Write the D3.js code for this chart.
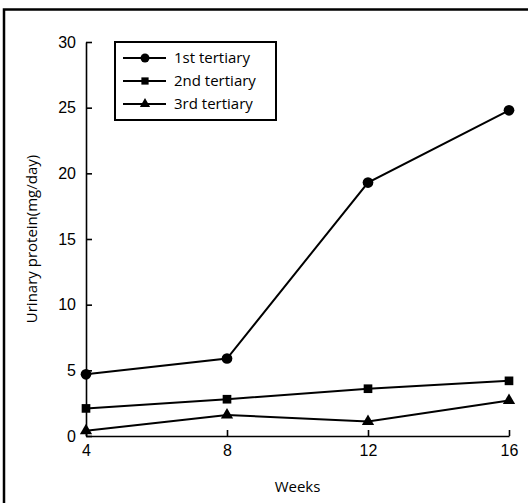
<!DOCTYPE html>
<html lang="en">
<head>
  <meta charset="UTF-8">
  <title>Urinary protein by tertiary</title>
  <script src="https://d3js.org/d3.v7.min.js"></script>
  <style>
    body { margin: 0; background: #fff; }
    svg { display: block; font-family: "Open Sans", Lato, sans-serif; }
    .axis path, .axis line { stroke: #000; stroke-width: 1.6; }
    .axis text { font-size: 16px; fill: #000; }
  </style>
</head>
<body>
  <svg width="528" height="503"></svg>
  <script>
    // data
    const weeks = [4, 8, 12, 16];
    const first = [4.7, 5.9, 19.3, 24.8];
    const second = [2.1, 2.8, 3.6, 4.2];
    const third = [0.4, 1.6, 1.1, 2.7];
    const seriesNames = ["1st tertiary", "2nd tertiary", "3rd tertiary"];
    const yTicks = [0, 5, 10, 15, 20, 25, 30];

    const series = [
      { name: seriesNames[0], values: first, symbol: d3.symbolCircle, size: 90 },
      { name: seriesNames[1], values: second, symbol: d3.symbolSquare, size: 75 },
      { name: seriesNames[2], values: third, symbol: d3.symbolTriangle, size: 65 }
    ];

    const svg = d3.select("svg");
    const margin = { top: 42, right: 19, bottom: 67, left: 86 };
    const width = 528 - margin.left - margin.right;
    const height = 503 - margin.top - margin.bottom;

    // outer frame (left and top edges only visible)
    svg.append("path")
      .attr("d", "M4,503V9.5H528")
      .attr("fill", "none")
      .attr("stroke", "#000")
      .attr("stroke-width", 2.5);

    const g = svg.append("g").attr("transform", `translate(${margin.left},${margin.top})`);

    const x = d3.scaleLinear().domain([4, 16]).range([0, width]);
    const y = d3.scaleLinear().domain([0, 30]).range([height, 0]);

    // x axis, ticks pointing inward
    const xAxis = g.append("g").attr("class", "axis")
      .attr("transform", `translate(0,${height})`)
      .call(d3.axisBottom(x).tickValues(weeks).tickSizeInner(-6).tickSizeOuter(0).tickPadding(6));
    xAxis.selectAll("text").attr("dy", "0.85em");

    // y axis, ticks pointing inward
    g.append("g").attr("class", "axis")
      .call(d3.axisLeft(y).tickValues(yTicks).tickSizeInner(-6).tickSizeOuter(0).tickPadding(10));

    // axis titles
    g.append("text")
      .attr("x", width / 2)
      .attr("y", height + 56)
      .attr("text-anchor", "middle")
      .style("font-size", "15px")
      .text("Weeks");

    g.append("text")
      .attr("transform", `translate(-49,${height / 2}) rotate(-90)`)
      .attr("text-anchor", "middle")
      .style("font-size", "15px")
      .text("Urinary protein(mg/day)");

    const line = d3.line()
      .x((d, i) => x(weeks[i]))
      .y(d => y(d));

    series.forEach(s => {
      g.append("path")
        .datum(s.values)
        .attr("fill", "none")
        .attr("stroke", "#000")
        .attr("stroke-width", 2)
        .attr("d", line);

      g.selectAll(null)
        .data(s.values)
        .enter().append("path")
        .attr("transform", (d, i) => `translate(${x(weeks[i])},${y(d)})`)
        .attr("d", d3.symbol().type(s.symbol).size(s.size))
        .attr("fill", "#000");
    });

    // legend
    const legend = svg.append("g").attr("transform", "translate(115,42)");
    legend.append("rect")
      .attr("width", 161).attr("height", 78)
      .attr("fill", "#fff").attr("stroke", "#000").attr("stroke-width", 2);

    series.forEach((s, i) => {
      const row = legend.append("g").attr("transform", `translate(0,${16 + i * 23})`);
      row.append("line")
        .attr("x1", 8).attr("x2", 51)
        .attr("stroke", "#000").attr("stroke-width", 2);
      row.append("path")
        .attr("transform", "translate(30,0)")
        .attr("d", d3.symbol().type(s.symbol).size(s.size * 0.7))
        .attr("fill", "#000");
      row.append("text")
        .attr("x", 59)
        .attr("dy", "0.35em")
        .style("font-size", "15px")
        .text(s.name);
    });
  </script>
</body>
</html>
